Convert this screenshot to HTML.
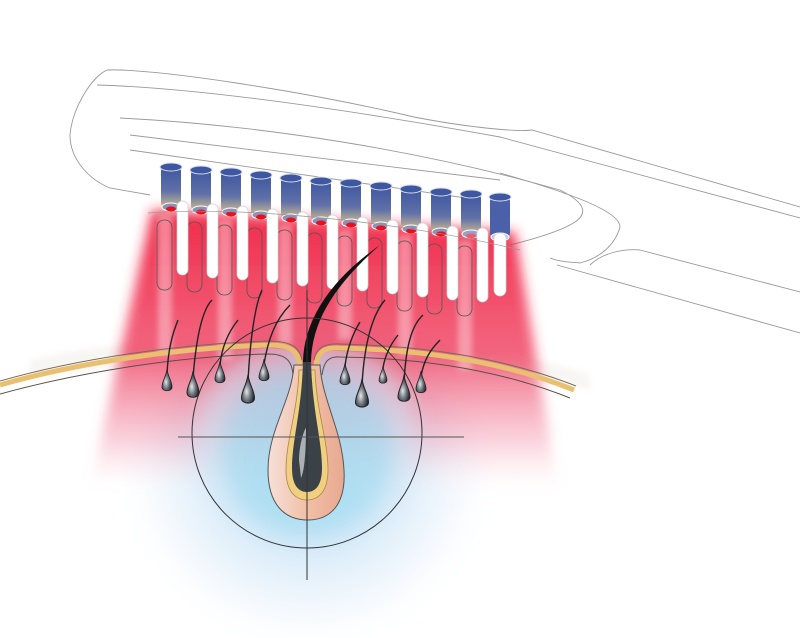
<!DOCTYPE html>
<html><head><meta charset="utf-8"><style>
html,body{margin:0;padding:0;background:#fff;width:800px;height:638px;overflow:hidden}
svg{display:block}
</style></head><body>
<svg width="800" height="638" viewBox="0 0 800 638" xmlns="http://www.w3.org/2000/svg">
<defs>
<filter id="blur6" x="-20%" y="-20%" width="140%" height="140%"><feGaussianBlur stdDeviation="6"/></filter>
<filter id="blur3" x="-20%" y="-20%" width="140%" height="140%"><feGaussianBlur stdDeviation="3"/></filter>
<filter id="blur15" x="-30%" y="-30%" width="160%" height="160%"><feGaussianBlur stdDeviation="15"/></filter>
<filter id="blur10" x="-30%" y="-30%" width="160%" height="160%"><feGaussianBlur stdDeviation="10"/></filter>
<clipPath id="below"><path d="M0,388 C80,365 180,350 268,348 C290,348 298,352 300,365 L316,365 C318,352 326,350 340,351 C420,353 500,363 574,393 L800,393 L800,638 L0,638Z"/></clipPath>
<linearGradient id="redfade" x1="0" y1="0" x2="0" y2="1">
<stop offset="0" stop-color="#f0203f" stop-opacity="0.95"/>
<stop offset="0.5" stop-color="#ee3355" stop-opacity="0.75"/>
<stop offset="0.8" stop-color="#f07090" stop-opacity="0.3"/>
<stop offset="1" stop-color="#ffffff" stop-opacity="0"/>
</linearGradient>
<radialGradient id="blue" cx="307" cy="460" r="190" gradientUnits="userSpaceOnUse">
<stop offset="0" stop-color="#8fd4ee" stop-opacity="0.75"/>
<stop offset="0.4" stop-color="#b0d8f2" stop-opacity="0.6"/>
<stop offset="0.75" stop-color="#d8e8f8" stop-opacity="0.4"/>
<stop offset="1" stop-color="#ffffff" stop-opacity="0"/>
</radialGradient>
<linearGradient id="cap" x1="0" y1="0" x2="0" y2="1">
<stop offset="0" stop-color="#3d57a0"/>
<stop offset="0.6" stop-color="#6070a8"/>
<stop offset="1" stop-color="#c8b890"/>
</linearGradient>
<radialGradient id="bulb" cx="0.4" cy="0.6" r="0.6">
<stop offset="0" stop-color="#e8e8e8"/>
<stop offset="0.5" stop-color="#707880"/>
<stop offset="1" stop-color="#202428"/>
</radialGradient>
<linearGradient id="foll" x1="0" y1="0" x2="1" y2="0">
<stop offset="0" stop-color="#f6e0d8"/>
<stop offset="0.5" stop-color="#f2c0a8"/>
<stop offset="1" stop-color="#e8a890"/>
</linearGradient>
<g id="hb"><path d="M0,-14 C1,-6 5,-2 5,4 C5,9 -5,9 -5,4 C-5,-2 -1,-6 0,-14Z" fill="url(#bulb)" stroke="#222" stroke-width="0.8"/></g>
</defs>

<g fill="none" stroke="#9a9a9a" stroke-width="0.9">
<path d="M107,70 C150,68 300,90 414,117 C470,128 520,132 532,130 L800,207"/>
<path d="M97,85 C200,88 350,110 500,137 L800,218"/>
<path d="M107,70 C90,78 72,110 70,135 C70,160 90,180 110,188 L150,195"/>
<path d="M557,265 L800,333"/>
<path d="M640,250 C620,248 600,255 590,265 M640,250 L800,292"/>
<path d="M120,118 C260,125 420,150 560,190 C590,205 585,215 575,222 C560,232 530,240 510,245"/>
<path d="M500,173 C560,190 620,210 620,227 C615,245 600,258 580,263 C570,262 560,262 550,258"/>
<path d="M130,135 L500,180"/>
<path d="M130,150 L480,200"/>
</g>

<path d="M30,360 C150,330 450,325 590,375 L590,390 C450,350 150,350 30,380Z" fill="#d8cfc0" opacity="0.18" filter="url(#blur3)"/>

<ellipse cx="307" cy="470" rx="185" ry="170" fill="url(#blue)" filter="url(#blur15)"/>

<path d="M152,210 L515,232 L560,500 L92,480 Z" fill="url(#redfade)" filter="url(#blur6)"/>
<g fill="#fbe0e6" opacity="0.45" filter="url(#blur3)">
<rect x="158" y="215" width="14" height="140"/>
<rect x="218" y="220" width="14" height="140"/>
<rect x="278" y="225" width="14" height="120"/>
<rect x="338" y="230" width="14" height="110"/>
<rect x="398" y="235" width="14" height="120"/>
<rect x="458" y="240" width="14" height="130"/>
</g>

<g clip-path="url(#below)">
<ellipse cx="307" cy="440" rx="110" ry="105" fill="#cfe6f6" opacity="0.55" filter="url(#blur10)"/>
<ellipse cx="307" cy="450" rx="85" ry="85" fill="#8fd6ee" opacity="0.45" filter="url(#blur10)"/>
</g>

<g fill="none" stroke="#555" stroke-width="0.8">
<rect x="157" y="220" width="15" height="70" rx="7"/>
<rect x="187" y="222" width="15" height="70" rx="7"/>
<rect x="217" y="225" width="15" height="70" rx="7"/>
<rect x="247" y="228" width="15" height="70" rx="7"/>
<rect x="277" y="230" width="15" height="70" rx="7"/>
<rect x="307" y="233" width="15" height="70" rx="7"/>
<rect x="337" y="236" width="15" height="70" rx="7"/>
<rect x="367" y="238" width="15" height="70" rx="7"/>
<rect x="397" y="241" width="15" height="70" rx="7"/>
<rect x="427" y="244" width="15" height="70" rx="7"/>
<rect x="457" y="246" width="15" height="70" rx="7"/>
</g>

<g>
<g transform="translate(171,163)"><rect x="-10" y="4" width="20" height="40" rx="4" fill="url(#cap)"/><ellipse cx="0" cy="4" rx="11" ry="4" fill="#3d57a0" stroke="#dde" stroke-width="1"/><ellipse cx="0" cy="44" rx="9" ry="4" fill="#8a90b8" stroke="#fff"/><ellipse cx="0" cy="46" rx="5" ry="2.5" fill="#e8101e"/><rect x="6" y="38" width="11" height="74" rx="5.5" fill="#fff" stroke="#cfd8d8" stroke-width="0.7"/></g>
<g transform="translate(201,166)"><rect x="-10" y="4" width="20" height="40" rx="4" fill="url(#cap)"/><ellipse cx="0" cy="4" rx="11" ry="4" fill="#3d57a0" stroke="#dde"/><ellipse cx="0" cy="44" rx="9" ry="4" fill="#8a90b8" stroke="#fff"/><ellipse cx="0" cy="46" rx="5" ry="2.5" fill="#e8101e"/><rect x="6" y="38" width="11" height="74" rx="5.5" fill="#fff" stroke="#cfd8d8" stroke-width="0.7"/></g>
<g transform="translate(231,168)"><rect x="-10" y="4" width="20" height="40" rx="4" fill="url(#cap)"/><ellipse cx="0" cy="4" rx="11" ry="4" fill="#3d57a0" stroke="#dde"/><ellipse cx="0" cy="44" rx="9" ry="4" fill="#8a90b8" stroke="#fff"/><ellipse cx="0" cy="46" rx="5" ry="2.5" fill="#e8101e"/><rect x="6" y="38" width="11" height="74" rx="5.5" fill="#fff" stroke="#cfd8d8" stroke-width="0.7"/></g>
<g transform="translate(261,171)"><rect x="-10" y="4" width="20" height="40" rx="4" fill="url(#cap)"/><ellipse cx="0" cy="4" rx="11" ry="4" fill="#3d57a0" stroke="#dde"/><ellipse cx="0" cy="44" rx="9" ry="4" fill="#8a90b8" stroke="#fff"/><ellipse cx="0" cy="46" rx="5" ry="2.5" fill="#e8101e"/><rect x="6" y="38" width="11" height="74" rx="5.5" fill="#fff" stroke="#cfd8d8" stroke-width="0.7"/></g>
<g transform="translate(291,174)"><rect x="-10" y="4" width="20" height="40" rx="4" fill="url(#cap)"/><ellipse cx="0" cy="4" rx="11" ry="4" fill="#3d57a0" stroke="#dde"/><ellipse cx="0" cy="44" rx="9" ry="4" fill="#8a90b8" stroke="#fff"/><ellipse cx="0" cy="46" rx="5" ry="2.5" fill="#e8101e"/><rect x="6" y="38" width="11" height="74" rx="5.5" fill="#fff" stroke="#cfd8d8" stroke-width="0.7"/></g>
<g transform="translate(321,177)"><rect x="-10" y="4" width="20" height="40" rx="4" fill="url(#cap)"/><ellipse cx="0" cy="4" rx="11" ry="4" fill="#3d57a0" stroke="#dde"/><ellipse cx="0" cy="44" rx="9" ry="4" fill="#8a90b8" stroke="#fff"/><ellipse cx="0" cy="46" rx="5" ry="2.5" fill="#e8101e"/><rect x="6" y="38" width="11" height="74" rx="5.5" fill="#fff" stroke="#cfd8d8" stroke-width="0.7"/></g>
<g transform="translate(351,179)"><rect x="-10" y="4" width="20" height="40" rx="4" fill="url(#cap)"/><ellipse cx="0" cy="4" rx="11" ry="4" fill="#3d57a0" stroke="#dde"/><ellipse cx="0" cy="44" rx="9" ry="4" fill="#8a90b8" stroke="#fff"/><ellipse cx="0" cy="46" rx="5" ry="2.5" fill="#e8101e"/><rect x="6" y="38" width="11" height="74" rx="5.5" fill="#fff" stroke="#cfd8d8" stroke-width="0.7"/></g>
<g transform="translate(381,182)"><rect x="-10" y="4" width="20" height="40" rx="4" fill="url(#cap)"/><ellipse cx="0" cy="4" rx="11" ry="4" fill="#3d57a0" stroke="#dde"/><ellipse cx="0" cy="44" rx="9" ry="4" fill="#8a90b8" stroke="#fff"/><ellipse cx="0" cy="46" rx="5" ry="2.5" fill="#e8101e"/><rect x="6" y="38" width="11" height="74" rx="5.5" fill="#fff" stroke="#cfd8d8" stroke-width="0.7"/></g>
<g transform="translate(411,185)"><rect x="-10" y="4" width="20" height="40" rx="4" fill="url(#cap)"/><ellipse cx="0" cy="4" rx="11" ry="4" fill="#3d57a0" stroke="#dde"/><ellipse cx="0" cy="44" rx="9" ry="4" fill="#8a90b8" stroke="#fff"/><ellipse cx="0" cy="46" rx="5" ry="2.5" fill="#e8101e"/><rect x="6" y="38" width="11" height="74" rx="5.5" fill="#fff" stroke="#cfd8d8" stroke-width="0.7"/></g>
<g transform="translate(441,188)"><rect x="-10" y="4" width="20" height="40" rx="4" fill="url(#cap)"/><ellipse cx="0" cy="4" rx="11" ry="4" fill="#3d57a0" stroke="#dde"/><ellipse cx="0" cy="44" rx="9" ry="4" fill="#8a90b8" stroke="#fff"/><ellipse cx="0" cy="46" rx="5" ry="2.5" fill="#e8101e"/><rect x="6" y="38" width="11" height="74" rx="5.5" fill="#fff" stroke="#cfd8d8" stroke-width="0.7"/></g>
<g transform="translate(471,190)"><rect x="-10" y="4" width="20" height="40" rx="4" fill="url(#cap)"/><ellipse cx="0" cy="4" rx="11" ry="4" fill="#3d57a0" stroke="#dde"/><ellipse cx="0" cy="44" rx="9" ry="4" fill="#9aa0c8" stroke="#fff"/><ellipse cx="0" cy="46" rx="5" ry="2.5" fill="#e86070"/><rect x="6" y="38" width="11" height="74" rx="5.5" fill="#fff" stroke="#cfd8d8" stroke-width="0.7"/></g>
<g transform="translate(500,193)"><rect x="-10" y="4" width="20" height="40" rx="4" fill="#4a60a8"/><ellipse cx="0" cy="4" rx="11" ry="4" fill="#3d57a0" stroke="#dde"/><ellipse cx="0" cy="44" rx="9" ry="4" fill="#c8c8dc" stroke="#fff"/><rect x="-6" y="40" width="12" height="63" rx="6" fill="#fff" stroke="#cfd8d8" stroke-width="0.7"/></g>
</g>
<path d="M148,213 C250,205 420,225 520,250" fill="none" stroke="#999" stroke-width="0.7"/>

<path d="M0,385 C80,362 180,348 268,345 C290,345 298,350 300,365 L300,380 L316,380 L316,365 C318,350 326,347 340,348 C420,350 500,360 574,390" fill="none" stroke="#e8c070" stroke-width="5"/>
<path d="M0,394 C80,372 180,356 268,354 C285,354 292,360 293,375 M322,375 C324,360 330,356 340,357 C420,358 500,370 570,398" fill="none" stroke="#5a5048" stroke-width="1"/>
<path d="M0,381 C80,358 180,344 268,341 C292,341 300,348 302,360 M314,360 C316,348 324,343 340,344 C420,346 500,356 576,386" fill="none" stroke="#7a6a58" stroke-width="1"/>

<path d="M294,365 C292,400 268,430 268,470 C268,505 285,520 308,520 C330,520 346,505 344,470 C342,430 322,400 320,365 Z" fill="url(#foll)" stroke="#555" stroke-width="1"/>
<path d="M299,370 C298,410 286,440 286,470 C286,492 296,500 307,500 C318,500 328,492 328,470 C328,440 316,410 315,370Z" fill="#f0d080" stroke="#a88840" stroke-width="0.8"/>
<path d="M303,360 C302,410 292,440 292,468 C292,486 299,492 307,492 C315,492 322,486 322,468 C322,440 312,410 311,360Z" fill="#3a4248"/>
<path d="M299,460 C299,445 304,430 306,428 C306,445 305,470 301,478Z" fill="#c8ccd0" opacity="0.8"/>
<path d="M303,362 C304,320 330,280 380,245 C335,285 312,320 311,362Z" fill="#111"/>

<circle cx="307" cy="433" r="115" fill="none" stroke="#333" stroke-width="1"/>
<line x1="178" y1="437" x2="464" y2="437" stroke="#555" stroke-width="1"/>
<line x1="307" y1="290" x2="307" y2="580" stroke="#333" stroke-width="1"/>

<g fill="none" stroke="#222" stroke-width="1.4">
<path d="M167,375 C168,350 172,335 178,320"/>
<path d="M193,378 C196,340 202,310 212,300"/>
<path d="M220,365 C222,345 230,330 238,320"/>
<path d="M248,382 C250,340 255,305 262,290"/>
<path d="M264,364 C268,340 275,320 290,305"/>
<path d="M345,366 C347,350 352,335 360,322"/>
<path d="M362,386 C364,345 372,315 385,300"/>
<path d="M383,368 C385,355 390,345 398,335"/>
<path d="M404,382 C406,345 412,325 423,315"/>
<path d="M421,376 C424,360 430,350 440,340"/>
</g>
<use href="#hb" x="167" y="383"/>
<use href="#hb" transform="translate(193,388) scale(1.2)"/>
<use href="#hb" x="220" y="375"/>
<use href="#hb" transform="translate(248,393) scale(1.3)"/>
<use href="#hb" x="264" y="373"/>
<use href="#hb" x="345" y="377"/>
<use href="#hb" transform="translate(362,397) scale(1.3)"/>
<use href="#hb" transform="translate(383,377) scale(0.8)"/>
<use href="#hb" transform="translate(404,392) scale(1.2)"/>
<use href="#hb" x="421" y="385"/>
</svg>
</body></html>
